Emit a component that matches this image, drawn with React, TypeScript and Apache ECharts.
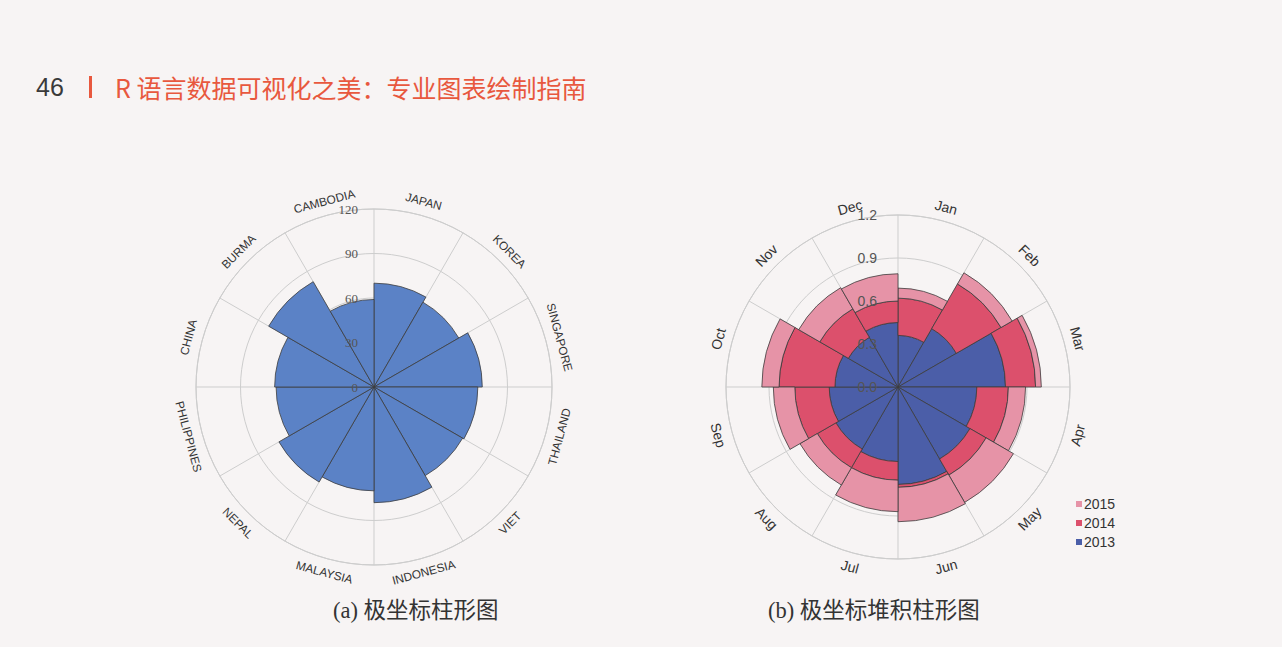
import React, { useEffect, useRef } from "react";
import * as echarts from "echarts";

const countries = ["JAPAN", "KOREA", "SINGAPORE", "THAILAND", "VIET", "INDONESIA", "MALAYSIA", "NEPAL", "PHILIPPINES", "CHINA", "BURMA", "CAMBODIA"];
const countryValues = [70, 66, 73, 70, 69, 78, 70, 74, 66, 67, 82, 59];

const months = ["Jan", "Feb", "Mar", "Apr", "May", "Jun", "Jul", "Aug", "Sep", "Oct", "Nov", "Dec"];
const v2013 = [0.36, 0.47, 0.75, 0.55, 0.58, 0.68, 0.52, 0.5, 0.48, 0.44, 0.4, 0.45];
const v2014 = [0.26, 0.36, 0.21, 0.22, 0.13, 0.02, 0.13, 0.15, 0.24, 0.39, 0.23, 0.15];
const v2015 = [0.07, 0.09, 0.04, 0.12, 0.22, 0.24, 0.22, 0.14, 0.15, 0.12, 0.17, 0.19];
const legendYears = ["2015", "2014", "2013"];

const leftRadius = { min: 0, max: 120, interval: 30 };
const rightRadius = { min: 0, max: 1.2, interval: 0.3 };

const headerNumber = "46";
const headerTitle = "R 语言数据可视化之美：专业图表绘制指南";
const captionA = "(a) 极坐标柱形图";
const captionB = "(b) 极坐标堆积柱形图";

const L = { cx: 374, cy: 387, r: 178 };
const R = { cx: 898, cy: 387, r: 172 };

const GRID = "#cdcdcd";
const BORDER = "#3c3c3c";
const BLUE = "#5b82c6";
const C2013 = "#4b5ea8";
const C2014 = "#dc506c";
const C2015 = "#e693a7";
const RED_TEXT = "#e8583e";

function ringLabels(labels: string[], cx: number, cy: number, r: number, font: string) {
  return labels.map((t, i) => {
    const a = ((i + 0.5) * 360) / labels.length;
    const rad = (a * Math.PI) / 180;
    let rot = a;
    if (a > 90 && a < 270) rot = a - 180;
    else if (a >= 270) rot = a - 360;
    return {
      type: "text",
      x: cx + r * Math.sin(rad),
      y: cy - r * Math.cos(rad),
      rotation: (-rot * Math.PI) / 180,
      silent: true,
      style: {
        text: t,
        font,
        fill: "#333",
        align: "center",
        verticalAlign: "middle",
        textAlign: "center",
        textVerticalAlign: "middle",
      },
    };
  });
}

function gridPolarAxes(idx: number, cats: string[], rad: { min: number; max: number; interval: number }) {
  return {
    angle: {
      polarIndex: idx,
      type: "category",
      data: cats,
      startAngle: 90,
      clockwise: true,
      z: 0,
      axisLine: { show: true, lineStyle: { color: GRID, width: 1 } },
      axisTick: { show: false },
      axisLabel: { show: false },
      splitLine: { show: true, lineStyle: { color: GRID, width: 1 } },
    },
    radius: {
      polarIndex: idx,
      type: "value",
      min: rad.min,
      max: rad.max,
      interval: rad.interval,
      z: 0,
      axisLine: { show: false },
      axisTick: { show: false },
      axisLabel: { show: false },
      splitLine: { show: true, lineStyle: { color: GRID, width: 1 } },
    },
  };
}

function labelPolarAxes(idx: number, cats: string[], rad: { min: number; max: number; interval: number }, label: any) {
  return {
    angle: {
      polarIndex: idx,
      type: "category",
      data: cats,
      startAngle: 90,
      show: false,
    },
    radius: {
      polarIndex: idx,
      type: "value",
      min: rad.min,
      max: rad.max,
      interval: rad.interval,
      z: 10,
      axisLine: { show: false },
      axisTick: { show: false },
      splitLine: { show: false },
      axisLabel: label,
    },
  };
}

export default function App() {
  const ref = useRef<HTMLDivElement>(null);

  useEffect(() => {
    if (!ref.current) return;
    const chart = echarts.init(ref.current, undefined, { renderer: "svg" });

    const gL = gridPolarAxes(0, countries, leftRadius);
    const gR = gridPolarAxes(1, months, rightRadius);
    const lL = labelPolarAxes(2, countries, leftRadius, {
      show: true,
      margin: 16,
      color: "#555",
      fontFamily: "Liberation Serif",
      fontSize: 13,
    });
    const lR = labelPolarAxes(3, months, rightRadius, {
      show: true,
      margin: 21,
      color: "#555",
      fontFamily: "Liberation Sans",
      fontSize: 14,
      formatter: (v: number) => v.toFixed(1),
    });

    const borderStyle = { borderColor: BORDER, borderWidth: 0.8 };

    chart.setOption({
      animation: false,
      backgroundColor: "#f7f4f4",
      polar: [
        { center: [L.cx, L.cy], radius: L.r },
        { center: [R.cx, R.cy], radius: R.r },
        { center: [L.cx, L.cy], radius: L.r },
        { center: [R.cx, R.cy], radius: R.r },
      ],
      angleAxis: [gL.angle, gR.angle, lL.angle, lR.angle],
      radiusAxis: [gL.radius, gR.radius, lL.radius, lR.radius],
      legend: {
        data: legendYears,
        orient: "vertical",
        left: 1076,
        top: 497,
        padding: 0,
        itemWidth: 6,
        itemHeight: 6,
        itemGap: 5,
        icon: "rect",
        selectedMode: false,
        itemStyle: { borderWidth: 0 },
        textStyle: { fontFamily: "Liberation Sans", fontSize: 14, color: "#333", padding: [0, 0, 0, -3] },
      },
      series: [
        {
          type: "bar",
          coordinateSystem: "polar",
          polarIndex: 0,
          data: countryValues,
          barCategoryGap: "0%",
          itemStyle: { color: BLUE, ...borderStyle },
          z: 2,
        },
        {
          name: "2013",
          type: "bar",
          coordinateSystem: "polar",
          polarIndex: 1,
          stack: "yr",
          data: v2013,
          barCategoryGap: "0%",
          itemStyle: { color: C2013, ...borderStyle },
          z: 2,
        },
        {
          name: "2014",
          type: "bar",
          coordinateSystem: "polar",
          polarIndex: 1,
          stack: "yr",
          data: v2014,
          barCategoryGap: "0%",
          itemStyle: { color: C2014, ...borderStyle },
          z: 2,
        },
        {
          name: "2015",
          type: "bar",
          coordinateSystem: "polar",
          polarIndex: 1,
          stack: "yr",
          data: v2015,
          barCategoryGap: "0%",
          itemStyle: { color: C2015, ...borderStyle },
          z: 2,
        },
      ],
      graphic: [
        {
          type: "text",
          x: 36,
          y: 87,
          style: {
            text: headerNumber,
            font: "25px 'Liberation Sans'",
            fill: "#3a3a3a",
            verticalAlign: "middle",
            textVerticalAlign: "middle",
          },
        },
        {
          type: "rect",
          shape: { x: 89, y: 76, width: 3, height: 22 },
          style: { fill: RED_TEXT },
        },
        {
          type: "text",
          x: 115,
          y: 87,
          style: {
            text: headerTitle,
            font: "25px 'Noto Sans CJK SC'",
            fill: RED_TEXT,
            verticalAlign: "middle",
            textVerticalAlign: "middle",
          },
        },
        {
          type: "text",
          x: 333,
          y: 610,
          style: {
            text: captionA,
            font: "22.5px 'Liberation Serif', 'Noto Sans CJK SC'",
            fill: "#333",
            verticalAlign: "middle",
            textVerticalAlign: "middle",
          },
        },
        {
          type: "text",
          x: 768,
          y: 610,
          style: {
            text: captionB,
            font: "22.5px 'Liberation Serif', 'Noto Sans CJK SC'",
            fill: "#333",
            verticalAlign: "middle",
            textVerticalAlign: "middle",
          },
        },
        ...ringLabels(countries, L.cx, L.cy, L.r + 14, "11.8px 'Liberation Sans'"),
        ...ringLabels(months, R.cx, R.cy, R.r + 14, "14px 'Liberation Sans'"),
      ],
    });

    return () => chart.dispose();
  }, []);

  return (
    <div
      ref={ref}
      style={{ position: "fixed", left: 0, top: 0, width: 1282, height: 647 }}
    />
  );
}
